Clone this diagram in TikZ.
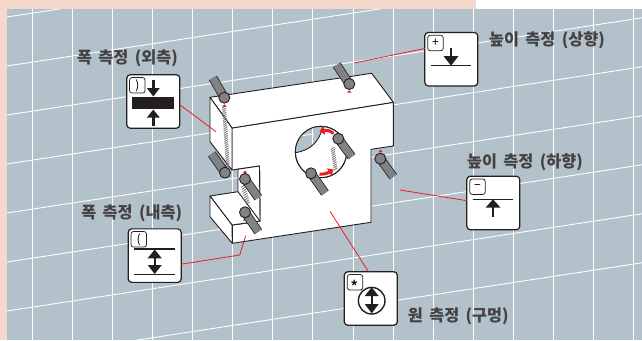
\documentclass[tikz,border=0pt]{standalone}
\usepackage{fontspec}
\setmainfont{Noto Sans CJK KR}
\newfontfamily\labelfont[WordSpace=1.7]{Noto Sans CJK KR}
\usetikzlibrary{arrows.meta,calc}
\definecolor{panel}{HTML}{B2C1CA}
\definecolor{peach}{HTML}{F5D8CB}
\definecolor{ink}{HTML}{231F20}
\definecolor{probeg}{HTML}{808285}
\definecolor{hatchg}{HTML}{77787B}
\definecolor{leadred}{HTML}{ED1C24}
\tikzset{
  x=1pt,y=-1pt,
  gridline/.style={white,line width=.9pt},
  edge/.style={draw=ink,line width=.9pt,line join=round},
  solid face/.style={fill=white,edge},
  iconbox/.style={draw=ink,fill=white,line width=1.2pt,rounded corners=3.5pt,minimum width=53pt,minimum height=53.5pt,inner sep=0pt,outer sep=0pt},
  keybox/.style={draw=ink,fill=white,line width=.75pt,rounded corners=2.5pt,minimum size=15.5pt,inner sep=0pt,font=\fontsize{12}{12}\selectfont},
  leader/.style={draw=leadred,line width=.8pt},
  labeltext/.style={text=ink!85,inner sep=0pt,font=\labelfont\fontsize{16.3}{17}\selectfont\bfseries},
  rule/.style={draw=ink,line width=1.2pt},
  stem/.style={draw=ink,line width=2.4pt},
  head/.style={fill=ink,draw=none},
  redarrow/.style={draw=leadred,line width=3pt,-{Triangle[length=5pt,width=8.5pt]}},
}
\newcommand{\probe}[4]{%
  \draw[draw=ink,line width=9pt] (#1,#2)--(#3,#4);
  \draw[draw=probeg,line width=7.4pt] (#1,#2)--(#3,#4);
  \filldraw[fill=probeg,draw=ink,line width=.9pt] (#1,#2) circle[radius=5.5pt];
}
\newcommand{\hatchline}[3]{%
  \foreach \t in {0,1,...,#3}{
    \draw[draw=hatchg,line width=.85pt] ($(#1)!\t/#3!(#2)+(-1.8,1.2)$)--++(3.6,-2.4);
  }
}
\newcommand{\reddot}[2]{\fill[leadred] (#1-2.2,#2+1)--(#1,#2-1.3)--(#1+2.2,#2+1)--cycle;}
\begin{document}
\begin{tikzpicture}
\useasboundingbox (0,0) rectangle (642,340);
\fill[white] (0,0) rectangle (642,340);
\fill[peach] (0,0) rectangle (476,9);
\fill[peach] (0,0) rectangle (7,340);
\fill[panel] (7,9) rectangle (642,340);
% grid
\begin{scope}
\clip (7,9) rectangle (642,340);
\foreach \gx in {32,72,112,152,192,232,272,312,353,393,433,473,513,553,593,633}
  \draw[gridline] (\gx,9)--(\gx,340);
\foreach \gy in {17,66,115,164,213,262,311,360}
  \draw[gridline] (7,\gy)--(642,\gy-97.2);
\end{scope}
% object
\draw[solid face] (232,128)--(393.3,102.3)--(393.3,146)--(371,149.3)--(371,222.3)--(232.3,243.3)--(232.3,225)--(260,221)--(259.5,166)--(232,170)--cycle;
\draw[solid face] (210,97.3)--(371.7,73.3)--(393.3,102.3)--(232,128)--cycle;
\draw[solid face] (210,97.3)--(232,128)--(232,170)--(210,141.7)--cycle;
% notch wall
\draw[solid face] (238,169.2)--(259.5,166)--(260,221)--(238,224.2)--cycle;
% lower block
\draw[solid face] (210,196)--(238,191.7)--(260,221)--(232,225)--cycle;
\draw[solid face] (210,196)--(232,225)--(232.3,243.3)--(210,216.7)--cycle;
\draw[edge] (232.3,225)--(232.3,243.3);
% hole
\draw[solid face] (321,152) circle[radius=25.7pt];
\begin{scope}
\clip (321,152) circle[radius=25.7pt];
\fill[panel] (295,153) .. controls (311,150) and (319,142) .. (323,126)--(290,120)--(290,153)--cycle;
\draw[gridline] (312,120)--(312,148.5);
\draw[gridline] (290,137.5)--(314,133.8);
\end{scope}
\draw[edge] (295.3,152.7) .. controls (311,150) and (319,142) .. (323,126.5);
\draw[edge] (321,152) circle[radius=25.7pt];
% hatching
\hatchline{224,107}{228,168}{29}
\hatchline{243,186}{248,203}{8}
\hatchline{332.7,148.3}{335.5,169}{10}
% red marks
\reddot{224.3}{105.5}\reddot{349.3}{91.5}\reddot{224.5}{165.5}\reddot{245}{172}\reddot{245}{219.5}\reddot{380.5}{151}
% red arrows
\draw[redarrow] (333.5,133.5) .. controls (330,130.5) and (327,130) .. (319.5,131);
\draw[redarrow] (319.5,174) .. controls (323,174.5) and (327,173.5) .. (333.5,169.5);
% probes
\probe{224.3}{97.7}{213}{78}
\probe{349.3}{84}{336.7}{65}
\probe{225}{172.7}{211.7}{154}
\probe{245}{179}{258.3}{197.7}
\probe{245}{212.3}{258.3}{231.7}
\probe{338.3}{138.7}{351.7}{156.7}
\probe{311}{173.3}{325}{193}
\probe{380.3}{158.7}{393.3}{176.7}
% icon boxes
\node[iconbox] (boxA) at (153.3,101.5) {};
\node[iconbox] (boxB) at (451.3,59.2) {};
\node[iconbox] (boxC) at (493.3,203) {};
\node[iconbox] (boxD) at (370.8,298.5) {};
\node[iconbox] (boxE) at (154.7,255.6) {};
% icon A
\fill[ink] (132.3,96.5) rectangle (174.3,109.3);
\draw[stem] (153.3,79.5)--(153.3,90);
\fill[head] (146.8,88)--(159.8,88)--(153.3,96.5)--cycle;
\draw[stem] (153.3,115)--(153.3,126);
\fill[head] (146.8,117.7)--(159.8,117.7)--(153.3,109.5)--cycle;
% icon B
\draw[rule] (431,65.7)--(471,65.7);
\draw[stem] (451,48.3)--(451,58);
\fill[head] (443.5,56)--(458.5,56)--(451,65.7)--cycle;
% icon C
\draw[rule] (472.7,199.3)--(513.3,199.3);
\draw[stem] (493,205)--(493,216.7);
\fill[head] (485.5,207.7)--(500.5,207.7)--(493,199.3)--cycle;
% icon E
\draw[rule] (134,249)--(174.7,249);
\draw[rule] (134,274.3)--(174.7,274.3);
\draw[stem] (154.7,252)--(154.7,272);
\fill[head] (147.7,258.3)--(161.7,258.3)--(154.7,249.5)--cycle;
\fill[head] (147.7,265)--(161.7,265)--(154.7,274)--cycle;
% icon D
\draw[draw=ink,line width=1.4pt] (371.7,300.7) circle[radius=13.3pt];
\draw[stem] (371.7,290)--(371.7,311);
\fill[head] (364.7,296)--(378.7,296)--(371.7,287.3)--cycle;
\fill[head] (364.7,304)--(378.7,304)--(371.7,313.3)--cycle;
% key boxes
\node[keybox] (keyA) at (137.3,85.3) {)};
\node[keybox] (keyB) at (435.5,43) {+};
\node[keybox] (keyC) at (477.5,186.7) {−};
\node[keybox] (keyD) at (355,282.3) {\smash{\raisebox{-12pt}{\fontsize{18}{18}\selectfont *}}};
\node[keybox] (keyE) at (138.7,239.3) {(};
% leaders
\coordinate (endA) at (216,131.7);
\coordinate (endB) at (354.3,63);
\coordinate (endC) at (400,190);
\coordinate (endD) at (330,211.3);
\coordinate (endE) at (245.7,235.7);
\coordinate (bendE) at (239.7,255);
\draw[leader] (boxA.-7.5)--(endA);
\draw[leader] (boxB.158)--(endB);
\draw[leader] (boxC.175)--(endC);
\draw[leader] (boxD.95)--(endD);
\draw[leader] (boxE.-18)--(bendE)--(endE);
% labels
\node[labeltext] (labA) at (127.5,58) {폭 측정 (외측)};
\node[labeltext] (labB) at (547,40) {높이 측정 (상향)};
\node[labeltext] (labC) at (525,162.5) {높이 측정 (하향)};
\node[labeltext] (labD) at (458.3,316.7) {원 측정 (구멍)};
\node[labeltext] (labE) at (131.7,213.3) {폭 측정 (내측)};
\end{tikzpicture}
\end{document}
